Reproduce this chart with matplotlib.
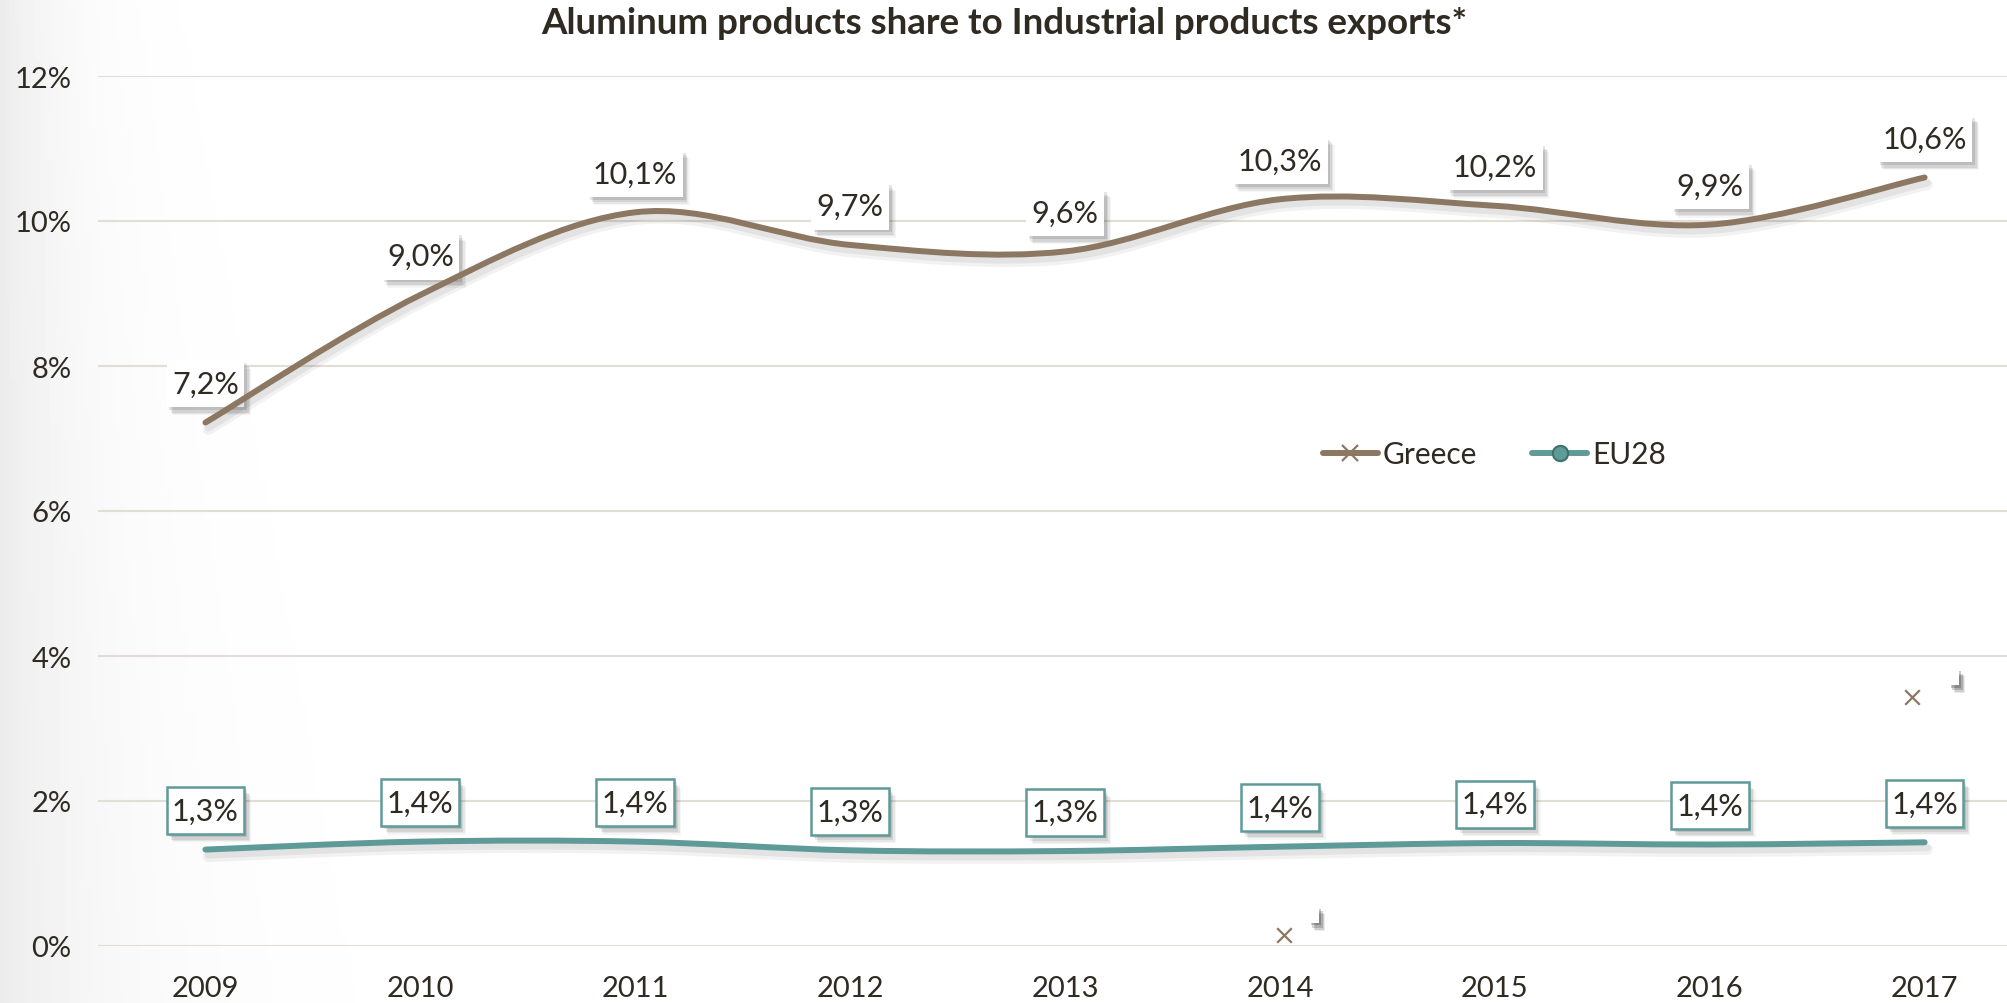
import matplotlib

matplotlib.use("Agg")
import matplotlib.pyplot as plt
import matplotlib.patheffects as pe
import numpy as np
from matplotlib.lines import Line2D
from matplotlib.patches import PathPatch
from matplotlib.path import Path

plt.rcParams["font.family"] = ["Lato", "DejaVu Sans"]

YEARS = ["2009", "2010", "2011", "2012", "2013", "2014", "2015", "2016", "2017"]
GREECE = [7.22, 8.98, 10.12, 9.67, 9.58, 10.30, 10.21, 9.95, 10.60]
EU28 = [1.33, 1.44, 1.44, 1.32, 1.31, 1.37, 1.42, 1.40, 1.43]
# stray markers left over in the original chart
STRAY_X = [5.02, 7.94]
STRAY_Y = [0.15, 3.43]
YTICKS = [0, 2, 4, 6, 8, 10, 12]

GREECE_COLOR = "#8C7862"
EU_COLOR = "#5E9B98"
TEXT_COLOR = "#2F2A22"
GRID_COLOR = "#E2DED5"


def smooth_path(xs, ys):
    # Excel-style smoothed line: cubic Bezier segments, Catmull-Rom tangents
    pts = np.column_stack([xs, ys]).astype(float)
    n = len(pts)
    verts = [pts[0]]
    codes = [Path.MOVETO]
    for i in range(n - 1):
        p0 = pts[max(i - 1, 0)]
        p1 = pts[i]
        p2 = pts[i + 1]
        p3 = pts[min(i + 2, n - 1)]
        c1 = p1 + (p2 - p0) / 6.0
        c2 = p2 - (p3 - p1) / 6.0
        verts += [c1, c2, p2]
        codes += [Path.CURVE4] * 3
    return Path(verts, codes)


def label_box(x0, y0, width, height, mutation_size):
    # square box, tighter left/right than top/bottom (like Excel labels)
    px = 0.18 * mutation_size
    py = 0.31 * mutation_size
    x0, y0 = x0 - px, y0 - py
    x1, y1 = x0 + width + 2 * px, y0 + height + 2 * py
    return Path([(x0, y0), (x1, y0), (x1, y1), (x0, y1), (x0, y0)], closed=True)


def fmt(v):
    return f"{v:.1f}".replace(".", ",") + "%"


def soft_shadow(alpha=1.0):
    # several faint offset copies to fake a blurred drop shadow
    effects = []
    for off, a in [((5, -6), 0.04), ((4, -5), 0.06), ((3, -4), 0.08), ((2, -2), 0.10)]:
        effects.append(pe.SimplePatchShadow(offset=off, shadow_rgbFace="black", alpha=a * alpha))
    return effects + [pe.Normal()]


fig = plt.figure(figsize=(20.08, 10.04), dpi=100)

# soft grey shading on the left edge
bg = fig.add_axes([0, 0, 1, 1], zorder=-5)
gx = np.linspace(0, 2008, 400)
gy = np.linspace(0, 1, 100)
GX, GY = np.meshgrid(gx, gy)
shade = 1 - 0.075 * np.exp(-GX / (60 + 60 * GY))
bg.imshow(shade, cmap="gray", vmin=0, vmax=1, aspect="auto", extent=[0, 1, 0, 1])
bg.axis("off")

ax = fig.add_axes([98 / 2008, 57 / 1004, 1910 / 2008, 870 / 1004])
ax.patch.set_alpha(0)
x = np.arange(len(YEARS))

line_shadow = [
    pe.SimpleLineShadow(offset=(2, -5), shadow_color="black", alpha=0.05, linewidth=8),
    pe.SimpleLineShadow(offset=(2, -4), shadow_color="black", alpha=0.06, linewidth=5),
    pe.Normal(),
]
for vals, color in [(GREECE, GREECE_COLOR), (EU28, EU_COLOR)]:
    patch = PathPatch(smooth_path(x, vals), fill=False, edgecolor=color, lw=4.3,
                      capstyle="round", joinstyle="round", zorder=5)
    patch.set_path_effects(line_shadow)
    ax.add_patch(patch)

for xi, g, e in zip(x, GREECE, EU28):
    t = ax.annotate(fmt(g), (xi, g), xytext=(0, 28), textcoords="offset points",
                    ha="center", va="center", fontsize=22, color=TEXT_COLOR, zorder=4,
                    bbox=dict(boxstyle=label_box, fc="white", ec="none"))
    t.get_bbox_patch().set_path_effects(soft_shadow())
    t = ax.annotate(fmt(e), (xi, e), xytext=(0, 28), textcoords="offset points",
                    ha="center", va="center", fontsize=22, color=TEXT_COLOR, zorder=4,
                    bbox=dict(boxstyle=label_box, fc="white", ec=EU_COLOR, lw=1.8))
    t.get_bbox_patch().set_path_effects(soft_shadow())

ax.scatter(STRAY_X, STRAY_Y, marker="x", s=110, color=GREECE_COLOR, lw=1.6, zorder=5)
for sx, sy, dx in zip(STRAY_X, STRAY_Y, [21, 30]):
    t = ax.annotate(" ", (sx, sy), xytext=(dx, 15), textcoords="offset points",
                    ha="center", va="center", fontsize=7,
                    bbox=dict(boxstyle="square,pad=0.4", fc="white", ec="none"))
    t.get_bbox_patch().set_path_effects(soft_shadow(2.0))

ax.set_xlim(-0.5, 8.388)
ax.set_ylim(0, 12)
ax.set_yticks(YTICKS)
ax.set_yticklabels([f"{v}%" for v in YTICKS])
ax.set_xticks(x)
ax.set_xticklabels(YEARS)
ax.tick_params(axis="both", length=0, labelsize=21, labelcolor=TEXT_COLOR)
ax.tick_params(axis="x", pad=21)
ax.tick_params(axis="y", pad=19)
ax.grid(axis="y", color=GRID_COLOR, lw=1.5)
ax.set_axisbelow(True)
for s in ax.spines.values():
    s.set_visible(False)

handles = [
    Line2D([], [], color=GREECE_COLOR, lw=4.3, marker="x", ms=11, mew=1.6,
           mec=GREECE_COLOR, solid_capstyle="round"),
    Line2D([], [], color=EU_COLOR, lw=4.3, marker="o", ms=11, mfc=EU_COLOR,
           mec="#3E706E", mew=1.5, solid_capstyle="round"),
]
fig.legend(handles, ["Greece", "EU28"], loc="center left",
           bbox_to_anchor=(1296 / 2008, 1 - 455 / 1004), ncol=2, frameon=False,
           fontsize=21.5, handlelength=1.85, handletextpad=0.15, columnspacing=1.85,
           labelcolor=TEXT_COLOR)

fig.text(0.5, 1 - 23 / 1004, "Aluminum products share to Industrial products exports*",
         ha="center", va="center", fontsize=26.5, fontweight="bold", color=TEXT_COLOR)

fig.savefig("out.png", dpi=100)
